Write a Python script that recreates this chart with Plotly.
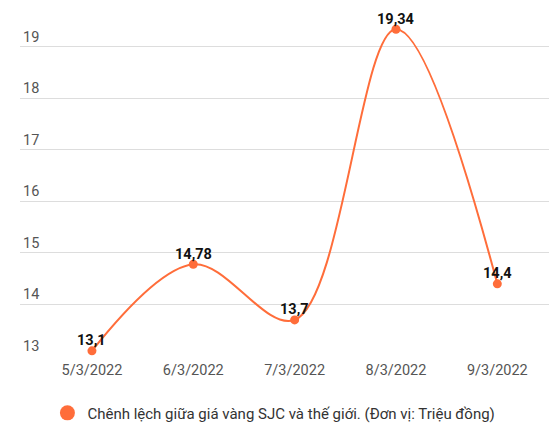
import plotly.graph_objects as go

dates = ["5/3/2022", "6/3/2022", "7/3/2022", "8/3/2022", "9/3/2022"]
values = [13.1, 14.78, 13.7, 19.34, 14.4]
labels = ["13,1", "14,78", "13,7", "19,34", "14,4"]
y_ticks = [13, 14, 15, 16, 17, 18, 19]
series_name = "Chênh lệch giữa giá vàng SJC và thế giới. (Đơn vị: Triệu đồng)"

ORANGE = "#FF6D3A"
x_idx = list(range(len(dates)))

fig = go.Figure()
fig.add_trace(go.Scatter(
    x=x_idx, y=values, mode="lines+markers",
    line=dict(color=ORANGE, width=2, shape="spline", smoothing=1.0),
    marker=dict(color=ORANGE, size=9),
    showlegend=False, cliponaxis=False,
))
fig.add_trace(go.Scatter(
    x=[None], y=[None], mode="markers", name=series_name,
    marker=dict(color=ORANGE, size=15),
))

for xi, v, lab in zip(x_idx, values, labels):
    fig.add_annotation(
        x=xi, y=v, text=lab, showarrow=False, yshift=10, yanchor="middle",
        font=dict(family="Roboto", size=14.5, color="#111111", weight="bold"),
    )

fig.update_layout(
    width=560, height=434,
    margin=dict(l=12, r=19, t=12, b=86, autoexpand=False),
    paper_bgcolor="white", plot_bgcolor="white",
    font=dict(family="Roboto", size=13, color="#555555"),
    showlegend=True,
    legend=dict(orientation="h", x=0.48, xanchor="center", y=-0.17, yanchor="middle",
                font=dict(size=15, color="#333333")),
)
fig.update_xaxes(
    tickmode="array", tickvals=x_idx, ticktext=dates,
    range=[-0.71, 4.51], showgrid=False, zeroline=False,
    showline=False, ticks="", ticklabelstandoff=3,
    tickfont=dict(size=14.5, color="#555555"),
)
fig.update_yaxes(
    tickmode="array", tickvals=y_ticks, ticktext=[str(t) for t in y_ticks],
    range=[13, 19.52], showgrid=True, gridcolor="#DDDDDD", gridwidth=1,
    zeroline=False, showline=False, ticks="",
    ticklabelposition="inside top",
    tickfont=dict(size=14.5, color="#555555"),
)

fig.write_html("out.html")
